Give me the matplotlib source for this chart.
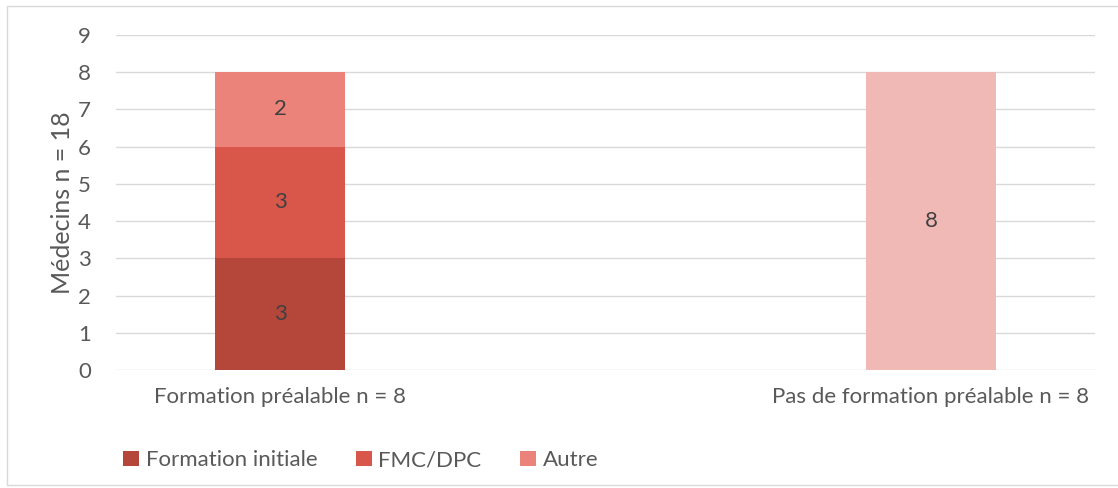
import matplotlib.pyplot as plt
from matplotlib.patches import Rectangle

# Data
categories = ['Formation préalable n = 8', 'Pas de formation préalable n = 8']
formation_initiale = [3, 0]
fmc_dpc = [3, 0]
autre = [2, 0]
pas_de_formation = [0, 8]

plt.rcParams['font.family'] = ['Lato', 'DejaVu Sans']
text_color = '#595959'
fs = 16

fig = plt.figure(figsize=(11.18, 4.88), dpi=100)
ax = fig.add_axes([116 / 1118, 1 - 370 / 488, (1095 - 116) / 1118, (370 - 35) / 488])

x = [0, 1]
width = 0.2
series = [
    ('Formation initiale', formation_initiale, '#B5473A'),
    ('FMC/DPC', fmc_dpc, '#D9564A'),
    ('Autre', autre, '#EC837B'),
]
bottom = [0, 0]
for name, vals, color in series:
    ax.bar(x, vals, width, bottom=bottom, color=color, label=name, zorder=2)
    for xi, v, b in zip(x, vals, bottom):
        if v:
            ax.text(xi, b + v / 2, str(v), ha='center', va='center', fontsize=fs, color='#404040')
    bottom = [b + v for b, v in zip(bottom, vals)]

ax.bar(x, pas_de_formation, width, bottom=bottom, color='#F0B9B5', zorder=2)
for xi, v, b in zip(x, pas_de_formation, bottom):
    if v:
        ax.text(xi, b + v / 2, str(v), ha='center', va='center', fontsize=fs, color='#404040')

ax.set_xlim(-0.252, 1.252)
ax.set_ylim(0, 9)
ax.set_yticks(range(10))
ax.set_xticks(x)
ax.set_xticklabels(categories)
ax.tick_params(axis='both', length=0, labelsize=fs, labelcolor=text_color)
ax.tick_params(axis='x', pad=12)
ax.tick_params(axis='y', pad=18)
ax.grid(axis='y', color='#D9D9D9', linewidth=1, zorder=0)
for s in ax.spines.values():
    s.set_visible(False)
ax.set_ylabel('Médecins n = 18', fontsize=18, color=text_color, labelpad=3)

ax.legend(loc='center', bbox_to_anchor=(0.25, -0.269), ncol=3, frameon=False,
          fontsize=fs, labelcolor=text_color, handlelength=0.7, handleheight=0.7,
          handletextpad=0.3, columnspacing=1.75)

fig.patches.append(Rectangle((7 / 1118, 3 / 488), 1.2, 479 / 488, transform=fig.transFigure,
                             fill=False, edgecolor='#D9D9D9', linewidth=1))

fig.savefig('out.png', dpi=100)
